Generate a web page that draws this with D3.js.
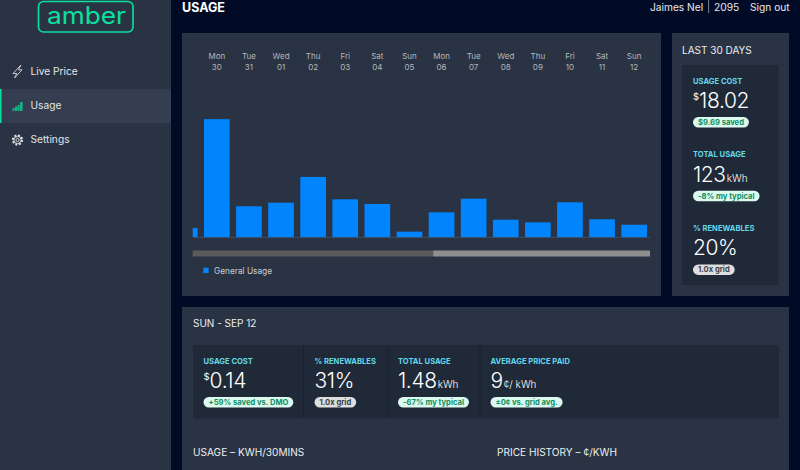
<!DOCTYPE html>
<html>
<head>
<meta charset="utf-8">
<script src="https://cdnjs.cloudflare.com/ajax/libs/d3/7.8.5/d3.min.js"></script>
<style>
html, body { margin: 0; padding: 0; background: #010b26; overflow: hidden; }
svg { display: block; font-family: Inter, "Noto Sans", sans-serif; }
.axis path, .axis line { display: none; }
.axis text { fill: #b4b7bd; font-size: 8px; font-family: Inter, sans-serif; }
</style>
</head>
<body>
<div id="chart"></div>
<script>
// usage per day in kWh, first day is cut off by the scroll window
var dias = ["Sun", "Mon", "Tue", "Wed", "Thu", "Fri", "Sat", "Sun", "Mon", "Tue", "Wed", "Thu", "Fri", "Sat", "Sun"];
var datas = ["29", "30", "31", "01", "02", "03", "04", "05", "06", "07", "08", "09", "10", "11", "12"];
var uso = [1.09, 13.9, 3.65, 4.07, 7.1, 4.47, 3.92, 0.66, 2.94, 4.54, 2.07, 1.76, 4.12, 2.12, 1.48];

var navItens = ["Live Price", "Usage", "Settings"];

var ultimos30Labels = ["USAGE COST", "TOTAL USAGE", "% RENEWABLES"];
var ultimos30Valores = ["18.02", "123", "20%"];
var ultimos30Prefixos = ["$", "", ""];
var ultimos30Unidades = ["", "kWh", ""];
var ultimos30Pills = ["$9.69 saved", "-8% my typical", "1.0x grid"];

var diaLabels = ["USAGE COST", "% RENEWABLES", "TOTAL USAGE", "AVERAGE PRICE PAID"];
var diaValores = ["0.14", "31%", "1.48", "9"];
var diaPrefixos = ["$", "", "", ""];
var diaUnidades = ["", "", "kWh", "¢/ kWh"];
var diaPills = ["+59% saved vs. DMO", "1.0x grid", "-67% my typical", "±0¢ vs. grid avg."];

var verde = "#0be09e", painel = "#2a3343", interno = "#202938", ciano = "#62d8ea";

var svg = d3.select("#chart").append("svg").attr("width", 800).attr("height", 470);

function caixa(x, y, w, h, cor) {
    return svg.append("rect").attr("x", x).attr("y", y).attr("width", w).attr("height", h).attr("fill", cor);
}

function texto(g, x, y, str, size, cor, weight) {
    return g.append("text").attr("x", x).attr("y", y).attr("font-size", size)
        .attr("fill", cor).attr("font-weight", weight || 400).text(str);
}

// largura real do texto, usada nas pills
function desenhaPill(g, x, y, str) {
    var cinza = str.indexOf("1.0x") === 0;
    var pill = g.append("g");
    var r = pill.append("rect").attr("x", x).attr("y", y).attr("height", 10.5).attr("rx", 5.25)
        .attr("fill", cinza ? "#dedede" : "#dcf9ef");
    var t = texto(pill, x + 5, y + 8, str, 7.6, cinza ? "#3a3f47" : "#0c8f63", 700);
    r.attr("width", t.node().getComputedTextLength() + 10);
}

function metrica(g, x, yLabel, label, prefixo, valor, unidade, pill) {
    texto(g, x, yLabel, label, 7.6, ciano, 700);
    var v = g.append("text").attr("x", x).attr("y", yLabel + 24.5).attr("fill", "#fff");
    if (prefixo) v.append("tspan").attr("font-size", 9.5).attr("dy", -8).text(prefixo);
    v.append("tspan").attr("font-size", 21).attr("font-weight", 300).attr("letter-spacing", -0.4)
        .attr("dy", prefixo ? 8 : 0).text(valor);
    if (unidade) v.append("tspan").attr("font-size", 10).attr("font-weight", 300).attr("dx", 1).text(unidade);
    desenhaPill(g, x, yLabel + 33.5, pill);
}

// sidebar
caixa(0, 0, 171, 470, painel);
caixa(0, 89, 171, 34, "#353d50");
caixa(0, 89, 1.5, 34, verde);

svg.append("rect").attr("x", 38.5).attr("y", 1.5).attr("width", 94.5).attr("height", 30.5).attr("rx", 5)
    .attr("fill", "none").attr("stroke", verde).attr("stroke-width", 1.6);
svg.append("text").attr("x", 47).attr("y", 24)
    .attr("font-size", 24).attr("font-weight", 400)
    .attr("textLength", 79).attr("lengthAdjust", "spacingAndGlyphs")
    .attr("fill", verde).text("amber");

navItens.forEach(function(item, i) {
    texto(svg, 30.5, [74.5, 109, 143][i], item, 10.2, "#e4e6ea", 400);
});

// icones
svg.append("path").attr("d", "M21 65 L13 73.5 L16.8 73.5 L14.5 78 L22 69.8 L18.4 69.8 Z")
    .attr("fill", "none").attr("stroke", "#d8dade").attr("stroke-width", 0.9);
[[12.5, 108, 2, 3], [15, 106.5, 2, 4.5], [17.5, 105, 2, 6], [20, 102, 2.6, 9]].forEach(function(b) {
    caixa(b[0], b[1], b[2], b[3], "#12b583");
});
svg.append("circle").attr("cx", 17.5).attr("cy", 140).attr("r", 4.6).attr("fill", "none")
    .attr("stroke", "#e0e2e6").attr("stroke-width", 2).attr("stroke-dasharray", "2 1.6");
svg.append("circle").attr("cx", 17.5).attr("cy", 140).attr("r", 3.6).attr("fill", "none")
    .attr("stroke", "#e0e2e6").attr("stroke-width", 0.9);
svg.append("circle").attr("cx", 17.5).attr("cy", 140).attr("r", 1.6).attr("fill", "none")
    .attr("stroke", "#e0e2e6").attr("stroke-width", 0.9);

// cabecalho
texto(svg, 182, 11.5, "USAGE", 12.5, "#fff", 700);
texto(svg, 650, 10.5, "Jaimes Nel", 10.2, "#e8e9ec");
caixa(708.3, 0, 0.8, 13, "#9aa0a8");
texto(svg, 714, 10.5, "2095", 10.2, "#e8e9ec");
texto(svg, 750, 10.5, "Sign out", 10.2, "#e8e9ec");

// painel do grafico
caixa(182, 33, 479, 263, painel);

var x = d3.scaleBand()
    .domain(d3.range(uso.length))
    .range([168.7, 168.7 + 32.1 * uso.length])
    .paddingInner(0.2)
    .paddingOuter(0.1);

var y = d3.scaleLinear()
    .domain([0, 14])
    .range([237.3, 118.3]);

svg.append("clipPath").attr("id", "janela")
    .append("rect").attr("x", 192.7).attr("y", 100).attr("width", 457.5).attr("height", 140);

svg.append("g").attr("clip-path", "url(#janela)")
    .selectAll("rect")
    .data(uso)
    .enter()
    .append("rect")
    .attr("x", function(d, i) { return x(i); })
    .attr("y", function(d) { return y(d); })
    .attr("width", x.bandwidth())
    .attr("height", function(d) { return y(0) - y(d); })
    .attr("fill", "#0085ff");

svg.append("line").attr("x1", 192.7).attr("x2", 650).attr("y1", 237.5).attr("y2", 237.5)
    .attr("stroke", "#41506c").attr("stroke-width", 0.8);

// duas linhas de rotulos, sem o dia 29 que esta fora da janela
var tickVals = d3.range(1, uso.length);
var eixoDias = d3.axisTop(x).tickValues(tickVals).tickSize(0).tickPadding(0)
    .tickFormat(function(i) { return dias[i]; });
var eixoDatas = d3.axisTop(x).tickValues(tickVals).tickSize(0).tickPadding(0)
    .tickFormat(function(i) { return datas[i]; });

svg.append("g").attr("class", "axis").attr("transform", "translate(0,59)").call(eixoDias);
svg.append("g").attr("class", "axis").attr("transform", "translate(0,70)").call(eixoDatas);

// scroll
caixa(192.7, 250.5, 240.5, 6, "#5b5b5c");
caixa(433.2, 250.5, 216.8, 6, "#8f8f8f");

// legenda
caixa(203.3, 267.7, 5.3, 5.3, "#0085ff");
texto(svg, 214, 274, "General Usage", 8.3, "#c9ccd1");

// painel ultimos 30 dias
caixa(672, 33, 117, 263, painel);
texto(svg, 682, 54, "LAST 30 DAYS", 10, "#eceef0");
caixa(682, 65, 96.5, 220, interno);
var grupoMes = svg.append("g");
ultimos30Labels.forEach(function(label, i) {
    metrica(grupoMes, 693, 83.5 + i * 73.7, label, ultimos30Prefixos[i], ultimos30Valores[i],
        ultimos30Unidades[i], ultimos30Pills[i]);
});

// painel do dia
caixa(182, 307, 607, 163, painel);
texto(svg, 193, 327, "SUN - SEP 12", 10, "#eceef0");
caixa(193, 345, 586, 73.5, interno);
[303, 387, 479.5].forEach(function(px) {
    caixa(px, 345, 1, 73.5, "#1a2231");
});
var colunasDia = [203.5, 314.5, 398, 490.5];
var grupoDia = svg.append("g");
diaLabels.forEach(function(label, i) {
    metrica(grupoDia, colunasDia[i], 363.5, label, diaPrefixos[i], diaValores[i], diaUnidades[i], diaPills[i]);
});

texto(svg, 193, 456, "USAGE – KWH/30MINS", 10.1, "#eceef0");
texto(svg, 497, 456, "PRICE HISTORY – ¢/KWH", 10.1, "#eceef0");
</script>
</body>
</html>
